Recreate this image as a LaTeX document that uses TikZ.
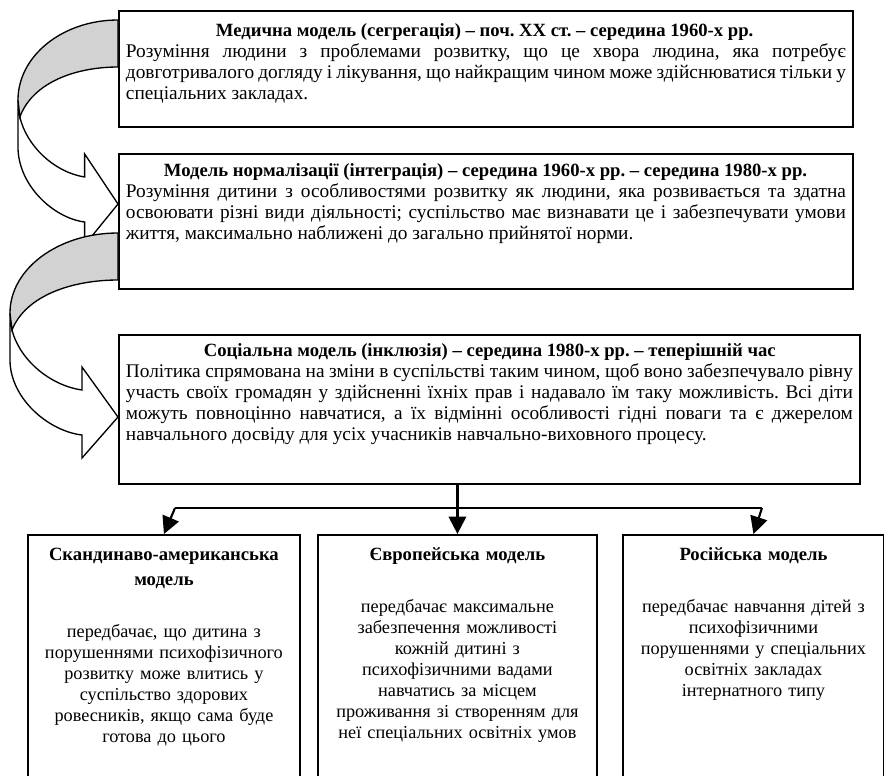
\documentclass[tikz,border=0pt]{standalone}
\usepackage{fontspec}
\setmainfont{Liberation Serif}
\usetikzlibrary{arrows.meta,calc}
\hyphenpenalty=10000
\frenchspacing
\tikzset{
  modelbox/.style={draw, line width=1.4pt, anchor=north west, inner xsep=5.25pt, inner ysep=0pt, align=justify, font=\fontsize{14.5}{15.75}\selectfont},
  typebox/.style={draw, line width=1.4pt, anchor=north west, inner xsep=4pt, inner ysep=0pt, align=center, font=\fontsize{13.7}{15.75}\selectfont, text height=19.5pt, text depth=176pt},
  boxtitle/.style={font=\fontsize{14}{18.75}\selectfont\bfseries},
  link/.style={line width=1.6pt},
  linkarrow/.style={link, -{Triangle[width=13pt,length=13pt]}},
  turnarrow/.pic={
    \draw[line width=1pt, fill=white] (-108,80) -- (-108,127) .. controls (-108,165) and (-70,198) .. (-36,202) -- (-36,225) -- (0,184) -- (-36,134) -- (-36,157) .. controls (-70,152) and (-99,125) .. (-106,97) -- cycle;
    \draw[line width=1pt, fill=gray!35] (0,0) .. controls (-60,0) and (-108,36) .. (-108,80) -- (-106,97) .. controls (-92,62) and (-45,47) .. (0,47) -- cycle;
  }
}
\newcommand{\ttl}[1]{{\fontsize{14}{18.75}\selectfont\bfseries #1\par}}
\begin{document}
\begin{tikzpicture}[x=0.75pt,y=-0.75pt]
\useasboundingbox (0,0) rectangle (884,775);
% three stages
\node[modelbox, text width=540pt, text height=19.5pt, text depth=67.5pt] (med) at (118,10) {\ttl{\hspace*{67.5pt}Медична модель (сегрегація) – поч. XX ст. – середина 1960-х рр.}
Розуміння людини з проблемами розвитку, що це хвора людина, яка потребує\linebreak довготривалого догляду і лікування, що найкращим чином може здійснюватися тільки у\linebreak спеціальних закладах.};
\node[modelbox, text width=540pt, text height=17.25pt, text depth=84pt] (norm) at (118,153) {\ttl{\hspace*{28.5pt}Модель нормалізації (інтеграція) – середина 1960-х рр. – середина 1980-х рр.}
Розуміння дитини з особливостями розвитку як людини, яка розвивається та здатна\linebreak освоювати різні види діяльності; суспільство має визнавати це і забезпечувати умови\linebreak життя, максимально наближені до загально прийнятої норми.};
\node[modelbox, text width=545.25pt, text height=16.5pt, text depth=95.25pt] (soc) at (118,334) {\ttl{\hspace*{58.5pt}Соціальна модель (інклюзія) – середина 1980-х рр. – теперішній час}
Політика спрямована на зміни в суспільстві таким чином, щоб воно забезпечувало рівну\linebreak участь своїх громадян у здійсненні їхніх прав і надавало їм таку можливість. Всі діти\linebreak можуть повноцінно навчатися, а їх відмінні особливості гідні поваги та є джерелом\linebreak навчального досвіду для усіх учасників навчально-виховного процесу.};
% curved arrows
\path (med.north west) ++(0,10) pic[xscale=.926] {turnarrow};
\path (norm.north west) ++(0,80) pic {turnarrow};
% three models
\node[typebox, text width=196pt] (sca) at (27,534) {\ttl{Скандинаво-американська\\модель}\vspace{23.25pt}
передбачає, що дитина з\\порушеннями психофізичного\\розвитку може влитись у\\суспільство здорових\\ровесників, якщо сама буде\\готова до цього};
\node[typebox, text width=201.25pt] (eur) at (317,534) {\ttl{Європейська модель}\vspace{23.25pt}
передбачає максимальне\\забезпечення можливості\\кожній дитині з\\психофізичними вадами\\навчатись за місцем\\проживання зі створенням для\\неї спеціальних освітніх умов};
\node[typebox, text width=187.75pt] (rus) at (622,534) {\ttl{Російська модель}\vspace{23.25pt}
передбачає навчання дітей з\\психофізичними\\порушеннями у спеціальних\\освітніх закладах\\інтернатного типу};
% links
\coordinate (jl) at (175,508);
\coordinate (jr) at (762,508);
\draw[linkarrow] (soc.south -| eur.north) -- (eur.north);
\draw[link] (jl) -- (jr);
\draw[linkarrow] (jl) -- (sca.north);
\draw[linkarrow] (jr) -- (rus.north);
\end{tikzpicture}
\end{document}
